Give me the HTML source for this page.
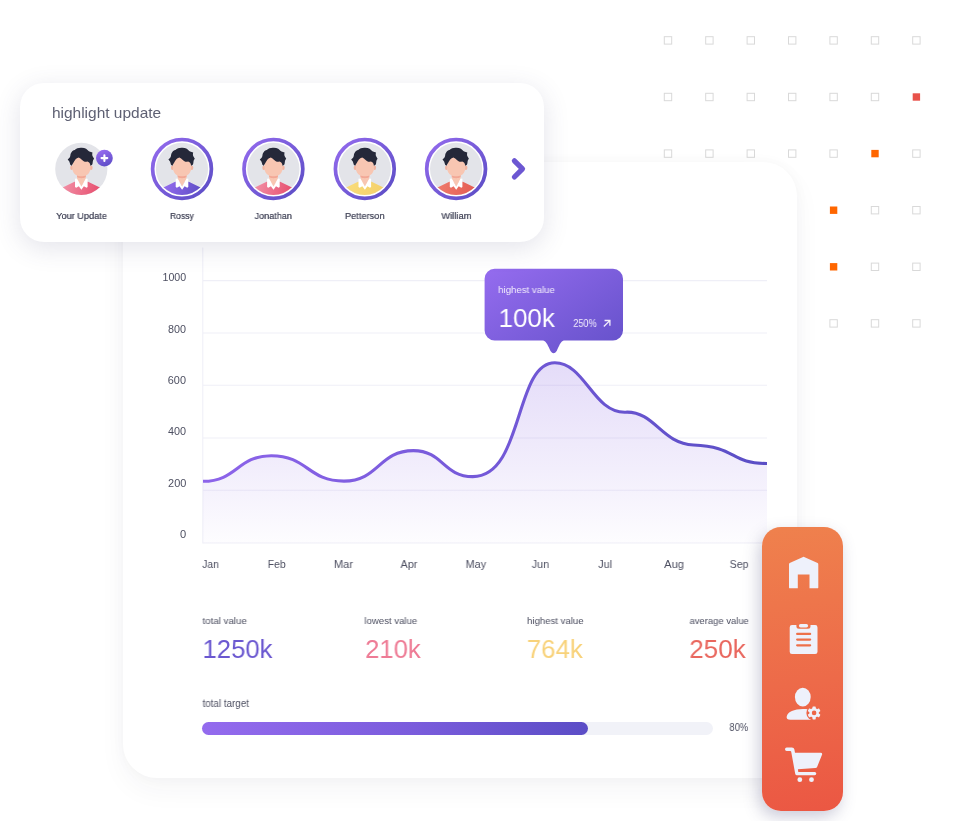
<!DOCTYPE html>
<html lang="en">
<head>
<meta charset="utf-8">
<title>Dashboard</title>
<style>
*{box-sizing:border-box;margin:0;padding:0}
html,body{width:958px;height:821px;background:#fff;overflow:hidden}
body{position:relative;font-family:"Liberation Sans",sans-serif}
.abs{position:absolute;left:0;top:0;width:958px;height:821px;pointer-events:none}
.t{position:absolute;white-space:nowrap;line-height:1;display:inline-block;will-change:transform;transform-origin:0 0}
#main{position:absolute;left:123.2px;top:162.2px;width:674.3px;height:616px;border-radius:34px;background:#fff;
 box-shadow:0 12px 28px rgba(40,40,60,0.045),0 0 14px rgba(40,40,60,0.03)}
#top{position:absolute;left:20px;top:83.4px;width:524.4px;height:159px;border-radius:24px;background:#fff;
 box-shadow:0 6px 26px rgba(70,70,115,0.15)}
#side{position:absolute;left:762.2px;top:526.8px;width:80.6px;height:284.6px;border-radius:19px;
 background:linear-gradient(172deg,#ef814d 0%,#ed6a49 55%,#eb5743 100%);
 box-shadow:-3px 6px 16px rgba(70,70,120,0.28)}
#track{position:absolute;left:202.2px;top:721.6px;width:511.2px;height:13.7px;border-radius:7px;background:#f1f2f8}
#fill{position:absolute;left:202.2px;top:721.6px;width:385.6px;height:13.7px;border-radius:7px;background:linear-gradient(90deg,#946bee 0%,#7a5cdc 55%,#5b4dc6 100%)}
</style>
</head>
<body>

<!-- background decorative squares -->
<svg class="abs" viewBox="0 0 958 821">
<rect x="664.3" y="36.7" width="7.4" height="7.4" fill="none" stroke="#d9d9d9" stroke-width="1"/>
<rect x="705.7" y="36.7" width="7.4" height="7.4" fill="none" stroke="#d9d9d9" stroke-width="1"/>
<rect x="747.1" y="36.7" width="7.4" height="7.4" fill="none" stroke="#d9d9d9" stroke-width="1"/>
<rect x="788.5" y="36.7" width="7.4" height="7.4" fill="none" stroke="#d9d9d9" stroke-width="1"/>
<rect x="829.9" y="36.7" width="7.4" height="7.4" fill="none" stroke="#d9d9d9" stroke-width="1"/>
<rect x="871.3" y="36.7" width="7.4" height="7.4" fill="none" stroke="#d9d9d9" stroke-width="1"/>
<rect x="912.7" y="36.7" width="7.4" height="7.4" fill="none" stroke="#d9d9d9" stroke-width="1"/>
<rect x="664.3" y="93.3" width="7.4" height="7.4" fill="none" stroke="#d9d9d9" stroke-width="1"/>
<rect x="705.7" y="93.3" width="7.4" height="7.4" fill="none" stroke="#d9d9d9" stroke-width="1"/>
<rect x="747.1" y="93.3" width="7.4" height="7.4" fill="none" stroke="#d9d9d9" stroke-width="1"/>
<rect x="788.5" y="93.3" width="7.4" height="7.4" fill="none" stroke="#d9d9d9" stroke-width="1"/>
<rect x="829.9" y="93.3" width="7.4" height="7.4" fill="none" stroke="#d9d9d9" stroke-width="1"/>
<rect x="871.3" y="93.3" width="7.4" height="7.4" fill="none" stroke="#d9d9d9" stroke-width="1"/>
<rect x="912.7" y="93.3" width="7.4" height="7.4" fill="#e8524a"/>
<rect x="664.3" y="149.9" width="7.4" height="7.4" fill="none" stroke="#d9d9d9" stroke-width="1"/>
<rect x="705.7" y="149.9" width="7.4" height="7.4" fill="none" stroke="#d9d9d9" stroke-width="1"/>
<rect x="747.1" y="149.9" width="7.4" height="7.4" fill="none" stroke="#d9d9d9" stroke-width="1"/>
<rect x="788.5" y="149.9" width="7.4" height="7.4" fill="none" stroke="#d9d9d9" stroke-width="1"/>
<rect x="829.9" y="149.9" width="7.4" height="7.4" fill="none" stroke="#d9d9d9" stroke-width="1"/>
<rect x="871.3" y="149.9" width="7.4" height="7.4" fill="#ff6600"/>
<rect x="912.7" y="149.9" width="7.4" height="7.4" fill="none" stroke="#d9d9d9" stroke-width="1"/>
<rect x="829.9" y="206.5" width="7.4" height="7.4" fill="#ff6600"/>
<rect x="871.3" y="206.5" width="7.4" height="7.4" fill="none" stroke="#d9d9d9" stroke-width="1"/>
<rect x="912.7" y="206.5" width="7.4" height="7.4" fill="none" stroke="#d9d9d9" stroke-width="1"/>
<rect x="829.9" y="263.1" width="7.4" height="7.4" fill="#ff6600"/>
<rect x="871.3" y="263.1" width="7.4" height="7.4" fill="none" stroke="#d9d9d9" stroke-width="1"/>
<rect x="912.7" y="263.1" width="7.4" height="7.4" fill="none" stroke="#d9d9d9" stroke-width="1"/>
<rect x="829.9" y="319.7" width="7.4" height="7.4" fill="none" stroke="#d9d9d9" stroke-width="1"/>
<rect x="871.3" y="319.7" width="7.4" height="7.4" fill="none" stroke="#d9d9d9" stroke-width="1"/>
<rect x="912.7" y="319.7" width="7.4" height="7.4" fill="none" stroke="#d9d9d9" stroke-width="1"/>
</svg>

<!-- main analytics card -->
<div id="main"></div>

<svg class="abs" viewBox="0 0 958 821">
 <defs>
  <linearGradient id="gLine" x1="203" y1="0" x2="767" y2="0" gradientUnits="userSpaceOnUse">
   <stop offset="0" stop-color="#8d64ea"/><stop offset="0.5" stop-color="#7459d8"/><stop offset="1" stop-color="#5a4ec5"/>
  </linearGradient>
  <linearGradient id="gArea" x1="0" y1="362" x2="0" y2="543" gradientUnits="userSpaceOnUse">
   <stop offset="0" stop-color="#8660e2" stop-opacity="0.22"/><stop offset="0.6" stop-color="#8660e2" stop-opacity="0.105"/><stop offset="1" stop-color="#8660e2" stop-opacity="0.015"/>
  </linearGradient>
  <linearGradient id="gTip" x1="0" y1="0" x2="1" y2="0.9">
   <stop offset="0" stop-color="#956cef"/><stop offset="1" stop-color="#6652cb"/>
  </linearGradient>
 </defs>
 <!-- grid -->
 <g stroke="#efeff7" stroke-width="1.05" fill="none">
  <line x1="203" y1="280.6" x2="767" y2="280.6"/>
  <line x1="203" y1="333" x2="767" y2="333"/>
  <line x1="203" y1="385.3" x2="767" y2="385.3"/>
  <line x1="203" y1="437.9" x2="767" y2="437.9"/>
  <line x1="203" y1="490.2" x2="767" y2="490.2"/>
  <line x1="203" y1="543" x2="767" y2="543"/>
  <line x1="202.8" y1="247.5" x2="202.8" y2="543.5"/>
 </g>
 <path d="M203.0 481.3 C237.2 481.3 237.2 455.7 271.3 455.7 C307.6 455.7 307.6 481.1 344.0 481.1 C378.7 481.1 378.7 450.6 413.4 450.6 C443.1 450.6 443.1 476.6 472.8 476.6 C523.6 476.6 514.4 362.8 554.8 362.8 C585.1 362.8 593.2 413.4 625.7 412.2 C654.9 411.1 661.4 443.7 693.5 445.0 C737.0 446.7 729.9 463.5 767.0 463.5 L767 543 L203 543 Z" fill="url(#gArea)"/>
 <path d="M203.0 481.3 C237.2 481.3 237.2 455.7 271.3 455.7 C307.6 455.7 307.6 481.1 344.0 481.1 C378.7 481.1 378.7 450.6 413.4 450.6 C443.1 450.6 443.1 476.6 472.8 476.6 C523.6 476.6 514.4 362.8 554.8 362.8 C585.1 362.8 593.2 413.4 625.7 412.2 C654.9 411.1 661.4 443.7 693.5 445.0 C737.0 446.7 729.9 463.5 767.0 463.5" fill="none" stroke="url(#gLine)" stroke-width="3.1" stroke-linecap="butt" stroke-linejoin="round"/>
 <!-- tooltip -->
 <path d="M494.6 268.7 H613 a10 10 0 0 1 10 10 V330.5 a10 10 0 0 1 -10 10 H563.8 C560.6 341.4 558.8 346.4 556.7 351 Q553.6 355.6 550.5 351 C548.4 346.4 546.4 341.4 543.2 340.5 H494.6 a10 10 0 0 1 -10 -10 V278.7 a10 10 0 0 1 10 -10 Z" fill="url(#gTip)"/>
 <path d="M604.3 326 L609.8 320.6 M605.2 320.5 H609.9 V325.2" stroke="#f3eefc" stroke-width="1.3" fill="none" stroke-linecap="square"/>
</svg>

<div id="track"></div><div id="fill"></div>
<span class="t" style="left:163px;top:273px;font-size:10px;color:#4d4f61;transform:translateX(-0.51px) scaleX(1.0620);">1000</span>
<span class="t" style="left:168px;top:325px;font-size:10px;color:#4d4f61;transform:translateX(0.05px) scaleX(1.0778);">800</span>
<span class="t" style="left:168px;top:376px;font-size:10px;color:#4d4f61;transform:translateX(-0.17px) scaleX(1.0865);">600</span>
<span class="t" style="left:168px;top:427px;font-size:10px;color:#4d4f61;transform:translateX(0.06px) scaleX(1.0839);">400</span>
<span class="t" style="left:168px;top:479px;font-size:10px;color:#4d4f61;transform:translateX(0.10px) scaleX(1.0939);">200</span>
<span class="t" style="left:180px;top:530px;font-size:10px;color:#4d4f61;transform:translateX(-0.08px) scaleX(1.1110);">0</span>
<span class="t" style="left:202px;top:559px;font-size:11.5px;color:#4d4f61;transform:translateX(0.17px) scaleX(0.8971);">Jan</span>
<span class="t" style="left:268px;top:559px;font-size:11.5px;color:#4d4f61;transform:translateX(-0.26px) scaleX(0.9041);">Feb</span>
<span class="t" style="left:334px;top:559px;font-size:11.5px;color:#4d4f61;transform:translateX(-0.16px) scaleX(0.9695);">Mar</span>
<span class="t" style="left:400px;top:559px;font-size:11.5px;color:#4d4f61;transform:translateX(0.55px) scaleX(0.9389);">Apr</span>
<span class="t" style="left:466px;top:559px;font-size:11.5px;color:#4d4f61;transform:translateX(-0.38px) scaleX(0.9434);">May</span>
<span class="t" style="left:532px;top:559px;font-size:11.5px;color:#4d4f61;transform:translateX(-0.30px) scaleX(0.9365);">Jun</span>
<span class="t" style="left:598px;top:559px;font-size:11.5px;color:#4d4f61;transform:translateX(0.16px) scaleX(0.9442);">Jul</span>
<span class="t" style="left:664px;top:559px;font-size:11.5px;color:#4d4f61;transform:translateX(0.12px) scaleX(0.9714);">Aug</span>
<span class="t" style="left:730px;top:559px;font-size:11.5px;color:#4d4f61;transform:translateX(-0.33px) scaleX(0.9231);">Sep</span>
<span class="t" style="left:202px;top:616px;font-size:9.8px;color:#4d4f61;transform:translateX(0.44px) scaleX(0.9947);">total value</span>
<span class="t" style="left:364px;top:616px;font-size:9.8px;color:#4d4f61;transform:translateX(0.34px) scaleX(0.9797);">lowest value</span>
<span class="t" style="left:527px;top:616px;font-size:9.8px;color:#4d4f61;transform:translateX(0.00px) scaleX(0.9812);">highest value</span>
<span class="t" style="left:689px;top:616px;font-size:9.8px;color:#4d4f61;transform:translateX(0.54px) scaleX(0.9622);">average value</span>
<span class="t" style="left:204px;top:636px;font-size:26.2px;color:#6a57d0;transform:translateX(-1.48px) scaleX(0.9797);">1250k</span>
<span class="t" style="left:366px;top:636px;font-size:26.2px;color:#ee7b95;transform:translateX(-0.88px) scaleX(0.9776);">210k</span>
<span class="t" style="left:528px;top:636px;font-size:26.2px;color:#f8d27a;transform:translateX(-1.19px) scaleX(0.9854);">764k</span>
<span class="t" style="left:690px;top:636px;font-size:26.2px;color:#e9675e;transform:translateX(-0.72px) scaleX(0.9923);">250k</span>
<span class="t" style="left:202px;top:699px;font-size:10px;color:#4d4f61;transform:translateX(0.56px) scaleX(0.9808);">total target</span>
<span class="t" style="left:729px;top:723px;font-size:10.2px;color:#4d4f61;transform:translateX(0.43px) scaleX(0.9180);">80%</span>
<span class="t" style="left:498px;top:285px;font-size:9.8px;color:#f3eefc;transform:translateX(0.16px) scaleX(0.9830);">highest value</span>
<span class="t" style="left:500px;top:305px;font-size:26.4px;color:#ffffff;transform:translateX(-1.42px) scaleX(0.9833);">100k</span>
<span class="t" style="left:573px;top:319px;font-size:10px;color:#f3eefc;transform:translateX(0.31px) scaleX(0.9135);">250%</span>

<!-- highlight card -->
<div id="top"></div>
<svg class="abs" viewBox="0 0 958 821">
 <defs>
  <linearGradient id="gPurple" x1="-0.7" y1="-0.7" x2="0.7" y2="0.7" gradientUnits="objectBoundingBox">
   <stop offset="0" stop-color="#946bee"/><stop offset="1" stop-color="#5a4cc4"/>
  </linearGradient>
  <linearGradient id="gBadge" x1="0.3" y1="0" x2="0.7" y2="1"><stop offset="0" stop-color="#986cf0"/><stop offset="1" stop-color="#5c4dc6"/></linearGradient>
  <linearGradient id="gRing" x1="0" y1="0" x2="1" y2="1"><stop offset="0" stop-color="#946bee"/><stop offset="1" stop-color="#5a4cc4"/></linearGradient>
  <linearGradient id="gPurpleShirt" x1="-18" y1="14" x2="18" y2="26" gradientUnits="userSpaceOnUse"><stop offset="0" stop-color="#946bee"/><stop offset="1" stop-color="#5e4ec6"/></linearGradient>
  <linearGradient id="gPink" x1="-18" y1="14" x2="18" y2="26" gradientUnits="userSpaceOnUse"><stop offset="0" stop-color="#f290a6"/><stop offset="1" stop-color="#e64d6d"/></linearGradient>
  <linearGradient id="gYellow" x1="-18" y1="14" x2="18" y2="26" gradientUnits="userSpaceOnUse"><stop offset="0" stop-color="#f9dc7a"/><stop offset="1" stop-color="#f4d06a"/></linearGradient>
  <linearGradient id="gRed" x1="-18" y1="14" x2="18" y2="26" gradientUnits="userSpaceOnUse"><stop offset="0" stop-color="#ee7a6c"/><stop offset="1" stop-color="#e45c52"/></linearGradient>
  <clipPath id="cAv"><circle r="26.1"/></clipPath>
  <g id="person">
   <circle r="26.1" fill="#e3e4e9"/>
   <g clip-path="url(#cAv)">
    <!-- shirt -->
    <path d="M-30 30 L-30 24 L-17.6 18.2 L-6.8 12.8 H6.8 L17.6 18.2 L30 24 L30 30 Z"/>
    <!-- neck -->
    <path d="M-4.3 3 H4.5 V10.4 L0.1 18 L-4.3 10.4 Z" fill="#f8c6b2"/>
    <path d="M-4.3 5 H4.5 V8.2 C2.6 9.8 -2.4 9.8 -4.3 8.2 Z" fill="#f2a896"/>
    <!-- collar -->
    <path d="M-6.3 9.9 L-4.3 9.6 L0.1 17.6 L4.5 9.6 L6.3 9.9 L6.3 18 L5.2 18.8 L2.6 17.3 L0.1 20.8 L-2.5 17.3 L-5.1 18.8 L-6.3 18 Z" fill="#ffffff"/>
    <!-- ears -->
    <ellipse cx="-9.6" cy="-1.2" rx="1.5" ry="2.2" fill="#f3b5a1"/><ellipse cx="9.8" cy="-1.2" rx="1.5" ry="2.2" fill="#f3b5a1"/>
    <!-- face -->
    <path d="M-8.9 -12 H9.1 V-1 C9.1 2.5 7.5 4.8 5.5 6 C3.5 7 1.5 7.4 0.1 7.4 C-1.5 7.4 -3.5 7 -5.3 6 C-7.3 4.8 -8.9 2.5 -8.9 -1 Z" fill="#f8c6b2"/>
    <!-- hair -->
    <path d="M-9.6 -3.1 L-11 -4.1 C-11.4 -5.5 -11.6 -6.5 -12 -7.5 L-13.6 -9.5 C-12 -10.5 -11.2 -12 -11 -13.2 C-10.8 -15 -10.4 -16 -9.6 -16.8 C-9 -18 -8 -18.6 -6.6 -18.9 C-5 -20.4 -3 -21.2 -0.6 -21.2 C1.5 -21.4 3.4 -21 4.8 -20.2 C6 -19.2 7 -18 8.1 -17.5 L11.2 -16.5 C10.8 -15 10.9 -14 11.2 -12.8 C11.8 -11.6 12.4 -10.8 12.8 -10.1 C12 -9.4 11.6 -8.4 11.5 -7.5 C11.4 -6 11.2 -5 10.8 -4.1 L9.1 -3.1 C9 -4.4 8.6 -5.4 8.1 -6.1 C7.4 -7 6.8 -7.4 6.1 -7.5 C5 -7 4.2 -7 3.4 -7.1 C2.4 -7.6 1.6 -8.2 0.8 -8.8 C-0.4 -10 -1.4 -11 -2.6 -11.4 C-4 -11 -5 -10.4 -5.9 -9.5 C-6.8 -8.4 -7.4 -7.2 -7.9 -6.1 C-8.6 -5 -9.2 -4 -9.6 -3.1 Z" fill="#252839"/>
   </g>
  </g>
 </defs>
<g transform="translate(81.3,168.9)"><use href="#person" fill="url(#gPink)"/></g>
<g transform="translate(182.0,168.9)"><circle r="29.4" fill="none" stroke="url(#gRing)" stroke-width="3.7"/><use href="#person" fill="url(#gPurpleShirt)"/></g>
<g transform="translate(273.4,168.9)"><circle r="29.4" fill="none" stroke="url(#gRing)" stroke-width="3.7"/><use href="#person" fill="url(#gPink)"/></g>
<g transform="translate(364.8,168.9)"><circle r="29.4" fill="none" stroke="url(#gRing)" stroke-width="3.7"/><use href="#person" fill="url(#gYellow)"/></g>
<g transform="translate(456.1,168.9)"><circle r="29.4" fill="none" stroke="url(#gRing)" stroke-width="3.7"/><use href="#person" fill="url(#gRed)"/></g>
 <!-- plus badge -->
 <circle cx="104.4" cy="158.1" r="8.4" fill="url(#gBadge)"/>
 <path d="M104.4 155.2 V161 M101.5 158.1 H107.3" stroke="#fff" stroke-width="2.1" stroke-linecap="round"/>
 <!-- chevron -->
 <path d="M514.4 160.8 L522.5 168.9 L514.4 177.0" fill="none" stroke="#6c57d2" stroke-width="5.2" stroke-linecap="round" stroke-linejoin="round"/>
</svg>
<span class="t" style="left:52px;top:105px;font-size:15px;color:#5e6073;transform:translateX(-0.10px) scaleX(1.0314);">highlight update</span>
<span class="t" style="left:56px;top:211px;font-size:9.5px;color:#4e5063;transform:translateX(0.16px) scaleX(0.9667);text-shadow:0 0 0.4px #4e5063;">Your Update</span>
<span class="t" style="left:170px;top:211px;font-size:9.5px;color:#4e5063;transform:translateX(0.01px) scaleX(0.8970);text-shadow:0 0 0.4px #4e5063;">Rossy</span>
<span class="t" style="left:255px;top:211px;font-size:9.5px;color:#4e5063;transform:translateX(-0.41px) scaleX(0.9554);text-shadow:0 0 0.4px #4e5063;">Jonathan</span>
<span class="t" style="left:345px;top:211px;font-size:9.5px;color:#4e5063;transform:translateX(-0.10px) scaleX(0.9756);text-shadow:0 0 0.4px #4e5063;">Petterson</span>
<span class="t" style="left:441px;top:211px;font-size:9.5px;color:#4e5063;transform:translateX(0.36px) scaleX(0.9821);text-shadow:0 0 0.4px #4e5063;">William</span>

<!-- side nav -->
<div id="side"></div>
<svg class="abs" viewBox="0 0 958 821">
 <g fill="#eef1fb">
  <!-- home -->
  <path d="M803.6 556.7 L817.6 563 Q818.3 563.4 818.3 564.4 V587.4 Q818.3 588.3 817.4 588.3 H809.5 V574.6 H797.8 V588.3 H789.9 Q789 588.3 789 587.4 V564.4 Q789 563.4 789.7 563 Z"/>
  <!-- clipboard -->
  <path fill-rule="evenodd" d="M792 625.1 H796.4 V626.2 Q796.4 628.7 799 628.7 H808 Q810.5 628.7 810.5 626.2 V625.1 H815.2 Q817.5 625.1 817.5 627.4 V651.7 Q817.5 654 815.2 654 H792 Q789.7 654 789.7 651.7 V627.4 Q789.7 625.1 792 625.1 Z M797.2 632.75 H810.1 a1.15 1.15 0 0 1 0 2.3 H797.2 a1.15 1.15 0 0 1 0 -2.3 Z M797.2 638.40 H810.1 a1.15 1.15 0 0 1 0 2.3 H797.2 a1.15 1.15 0 0 1 0 -2.3 Z M797.2 644.15 H810.1 a1.15 1.15 0 0 1 0 2.3 H797.2 a1.15 1.15 0 0 1 0 -2.3 Z"/>
  <rect x="798.9" y="624" width="9.2" height="3.5" rx="1.75"/>
  <!-- user -->
  <mask id="mGear" maskUnits="userSpaceOnUse" x="780" y="680" width="50" height="50"><rect x="780" y="680" width="50" height="50" fill="#fff"/><circle cx="814.1" cy="712.9" r="7.7" fill="#000"/></mask>
  <ellipse cx="802.8" cy="697.1" rx="7.9" ry="9.4"/>
  <path d="M786.7 716.4 C787.8 712 794 709.1 803 709.1 C806.4 709.1 809.4 709.5 812.4 710.4 V719.7 H790.4 C787.6 719.7 786.2 718.4 786.7 716.4 Z" mask="url(#mGear)"/>
  <!-- gear -->
  <g transform="translate(814.1 712.9)">
   <path fill-rule="evenodd" d="M0 -4.8 A4.8 4.8 0 1 0 0 4.8 A4.8 4.8 0 1 0 0 -4.8 Z M0 -2.3 A2.3 2.3 0 1 1 0 2.3 A2.3 2.3 0 1 1 0 -2.3 Z"/>
   <rect x="-1.65" y="-6.5" width="3.3" height="3.2" rx="0.7" transform="rotate(0)"/><rect x="-1.65" y="-6.5" width="3.3" height="3.2" rx="0.7" transform="rotate(60)"/><rect x="-1.65" y="-6.5" width="3.3" height="3.2" rx="0.7" transform="rotate(120)"/><rect x="-1.65" y="-6.5" width="3.3" height="3.2" rx="0.7" transform="rotate(180)"/><rect x="-1.65" y="-6.5" width="3.3" height="3.2" rx="0.7" transform="rotate(240)"/><rect x="-1.65" y="-6.5" width="3.3" height="3.2" rx="0.7" transform="rotate(300)"/>
  </g>
  <!-- cart -->
  <path d="M786.7 747.5 H791.9 Q794 747.5 794.4 749.5 L795 752.8 H820.6 Q822.7 752.8 822 754.8 L817.2 766.7 Q816.7 767.9 815.4 768 L797.9 769.3 L798.3 771.9 H814.6 Q816.3 771.9 816.3 773.5 Q816.3 775.2 814.6 775.2 H797 Q795.5 775.2 795.2 773.7 L791.2 751.7 Q791.1 750.9 790.3 750.9 H786.7 Q785 750.9 785 749.2 Q785 747.5 786.7 747.5 Z"/>
  <circle cx="799.8" cy="779.7" r="2.4"/><circle cx="811.5" cy="779.7" r="2.4"/>
 </g>
</svg>
</body>
</html>
